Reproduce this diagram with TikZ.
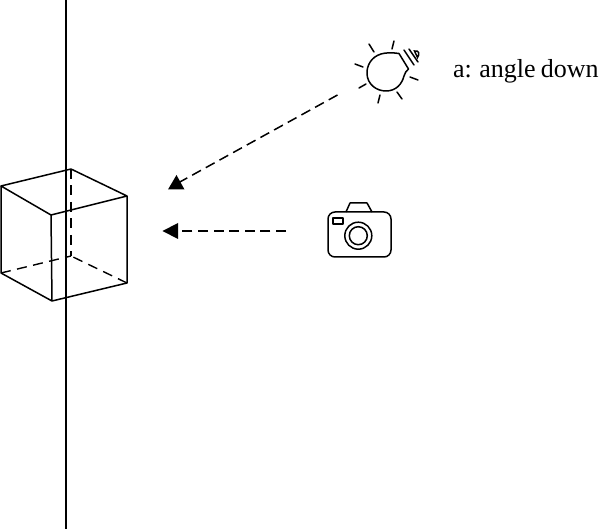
\documentclass[tikz,border=0pt]{standalone}
\usepackage{fontspec}
\setmainfont[WordSpace=0.8]{Liberation Serif}
\tikzset{
  ln/.style={line width=1.5pt,black,line join=round},
  axis/.style={line width=1.4pt,black},
  thin ln/.style={line width=1.5pt,black,line cap=round},
  hid/.style={line width=1.4pt,black,dash pattern=on 10pt off 6.5pt},
  ray/.style={line width=1.5pt,black,dash pattern=on 10pt off 5.6pt},
  head/.style={fill=black,draw=none},
  lab/.style={font=\fontsize{26pt}{28pt}\selectfont,anchor=base west,inner sep=0pt}
}
\begin{document}
\begin{tikzpicture}[x=1pt,y=-1pt]
\useasboundingbox (0,0) rectangle (600,529);
\coordinate (lt) at (66,0); \coordinate (lb) at (66,529);
\draw[axis] (lt) -- (lb);
% cube
\coordinate (A) at (1,186); \coordinate (B) at (71,169); \coordinate (C) at (127,196); \coordinate (D) at (51,215);
\coordinate (E) at (1,273); \coordinate (F) at (52,301); \coordinate (G) at (127,283); \coordinate (H) at (71,256);
\draw[ln] (A) -- (B) -- (C) -- (D) -- cycle;
\draw[ln] (A) -- (E) -- (F) -- (G) -- (C);
\draw[ln] (D) -- (F);
\draw[hid] (B) -- (H);
\draw[hid] (E) -- (H);
\draw[hid] (G) -- (H);
% rays
\coordinate (s1) at (337.5,95); \coordinate (s2) at (178,183);
\coordinate (c1) at (286,231); \coordinate (c2) at (172,231);
\draw[ray] (s1) -- (s2);
\draw[ray] (c1) -- (c2);
\fill[head] (176.5,175) -- (184.5,189.5) -- (168,189.5) -- cycle;
\fill[head] (162.5,231) -- (178,223) -- (178,239) -- cycle;
% sun bulb
\draw[ln] (399,53.5) .. controls (392,52.5) and (386,52.5) .. (381,54)
  .. controls (371,57) and (366.5,66) .. (367,74)
  .. controls (367.5,84) and (376,91) .. (386,91)
  .. controls (396,91) and (402,84) .. (404,76)
  .. controls (405,73) and (406,71) .. (408.5,69)
  -- cycle;
\draw[thin ln] (404,50) -- (414,65);
\draw[thin ln] (409,49) -- (418,62);
\draw[thin ln] (414.5,51) .. controls (419,50) and (420,54) .. (417.5,57.5) -- cycle;
\foreach \a/\b/\c/\d in {369/44/374/52, 394/41/392/49, 355/64/363/67, 359/88/366/84, 380/95/378/103, 397/92/402/99, 410/77/418/80}
  \draw[thin ln] (\a,\b) -- (\c,\d);
% camera
\draw[ln,rounded corners=7pt] (328,212) rectangle (391,257);
\draw[ln] (346,212) -- (350,203) -- (367,203) -- (372,212);
\draw[ln] (333,218) rectangle (343,224);
\node[circle,draw,line width=1.5pt,minimum size=27pt,inner sep=0pt] (lens) at (358.3,235.7) {};
\node[circle,draw,line width=1.5pt,minimum size=18pt,inner sep=0pt] (lensin) at (358.3,235.7) {};
\node[lab] (label) at (453,78) {a: angle down};
\end{tikzpicture}
\end{document}
